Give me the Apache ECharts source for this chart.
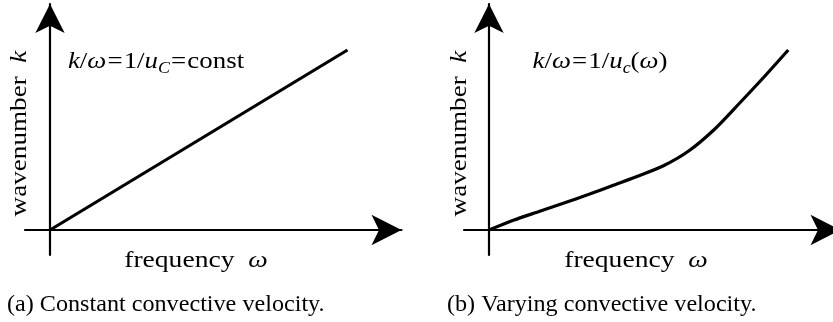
<!DOCTYPE html>
<html>
<head>
<meta charset="utf-8">
<script src="https://cdn.jsdelivr.net/npm/echarts@6/dist/echarts.min.js"></script>
<style>
  html, body { margin: 0; padding: 0; background: #fff; }
  #chart { width: 833px; height: 322px; }
</style>
</head>
<body>
<div id="chart"></div>
<script>
// Panel (a): constant convective velocity, k grows linearly with omega
const omegaConst = [0, 11.9];
const kConst = [0, 7.2];

// Panel (b): varying convective velocity, k(omega) bends upward
const omegaVary = [0, 1, 2, 3, 4, 5, 6, 7, 8, 9, 10, 11, 11.97];
const kVary = [0, 0.40, 0.74, 1.08, 1.43, 1.80, 2.17, 2.58, 3.17, 4.01, 5.05, 6.12, 7.2];

// Axis extents (arbitrary units, origin at 0); the arrow tips sit at max
const xRange = [-1, 14.06];
const yRange = [-1, 9.04];

const captions = ['(a) Constant convective velocity.', '(b) Varying convective velocity.'];

const serif = '"Liberation Serif", "DejaVu Serif", serif';

function pairs(xs, ys) {
  return xs.map((x, i) => [x, ys[i]]);
}

function axis(kind, gridIndex, range) {
  return {
    type: 'value',
    gridIndex: gridIndex,
    min: range[0],
    max: range[1],
    axisLine: {
      show: true,
      onZero: true,
      symbol: ['none', 'arrow'],
      symbolSize: kind === 'x' ? [23, 30] : [22, 29],
      lineStyle: { color: '#000', width: 2.2 }
    },
    axisTick: { show: false },
    axisLabel: { show: false },
    splitLine: { show: false }
  };
}

const eqRich = {
  i: { fontFamily: serif, fontStyle: 'italic', fontSize: 24, color: '#000', lineHeight: 30 },
  n: { fontFamily: serif, fontSize: 24, color: '#000', lineHeight: 30 },
  e: { fontFamily: serif, fontSize: 24, color: '#000', lineHeight: 30, padding: [0, 1] },
  s: { fontFamily: serif, fontStyle: 'italic', fontSize: 16, color: '#000', lineHeight: 30, verticalAlign: 'bottom' }
};

const labelRich = {
  n: { fontFamily: serif, fontSize: 23, color: '#000' },
  i: { fontFamily: serif, fontStyle: 'italic', fontSize: 23, color: '#000' }
};

function textEl(x, y, text, rich, extra) {
  return Object.assign({
    type: 'text',
    x: x,
    y: y,
    style: {
      text: text,
      rich: rich,
      align: 'center',
      verticalAlign: 'middle'
    }
  }, extra || {});
}

const chart = echarts.init(document.getElementById('chart'), null, { renderer: 'canvas' });

chart.setOption({
  animation: false,
  backgroundColor: '#fff',
  grid: [
    { left: 25, width: 376.5, top: 4, height: 251, outerBoundsMode: 'none', containLabel: false },
    { left: 464, width: 376.5, top: 4, height: 251, outerBoundsMode: 'none', containLabel: false }
  ],
  xAxis: [axis('x', 0, xRange), axis('x', 1, xRange)],
  yAxis: [axis('y', 0, yRange), axis('y', 1, yRange)],
  series: [
    {
      type: 'line',
      xAxisIndex: 0,
      yAxisIndex: 0,
      data: pairs(omegaConst, kConst),
      showSymbol: false,
      lineStyle: { color: '#000', width: 3.2 },
      clip: false
    },
    {
      type: 'line',
      xAxisIndex: 1,
      yAxisIndex: 1,
      data: pairs(omegaVary, kVary),
      smooth: 0.25,
      showSymbol: false,
      lineStyle: { color: '#000', width: 3.2 },
      clip: false
    }
  ],
  graphic: [
    textEl(156, 62, '{i|k}{n|/}{i|ω}{e|=}{n|1/}{i|u}{s|C}{e|=}{n|const}', eqRich, { scaleX: 1.12 }),
    textEl(600, 62, '{i|k}{n|/}{i|ω}{e|=}{n|1/}{i|u}{s|c}{n|(}{i|ω}{n|)}', eqRich, { scaleX: 1.12 }),
    textEl(20, 133.5, '{n|wavenumber  }{i|k}', labelRich, { rotation: Math.PI / 2, scaleX: 1.18 }),
    textEl(460, 133.5, '{n|wavenumber  }{i|k}', labelRich, { rotation: Math.PI / 2, scaleX: 1.18 }),
    textEl(196, 261, '{n|frequency  }{i|ω}', labelRich, { scaleX: 1.2 }),
    textEl(636, 261, '{n|frequency  }{i|ω}', labelRich, { scaleX: 1.2 }),
    {
      type: 'text', x: 7, y: 305, scaleX: 1.05,
      style: { text: captions[0], font: '23px ' + serif, fill: '#000', align: 'left', verticalAlign: 'middle' }
    },
    {
      type: 'text', x: 447, y: 305, scaleX: 1.05,
      style: { text: captions[1], font: '23px ' + serif, fill: '#000', align: 'left', verticalAlign: 'middle' }
    }
  ]
});
</script>
</body>
</html>
